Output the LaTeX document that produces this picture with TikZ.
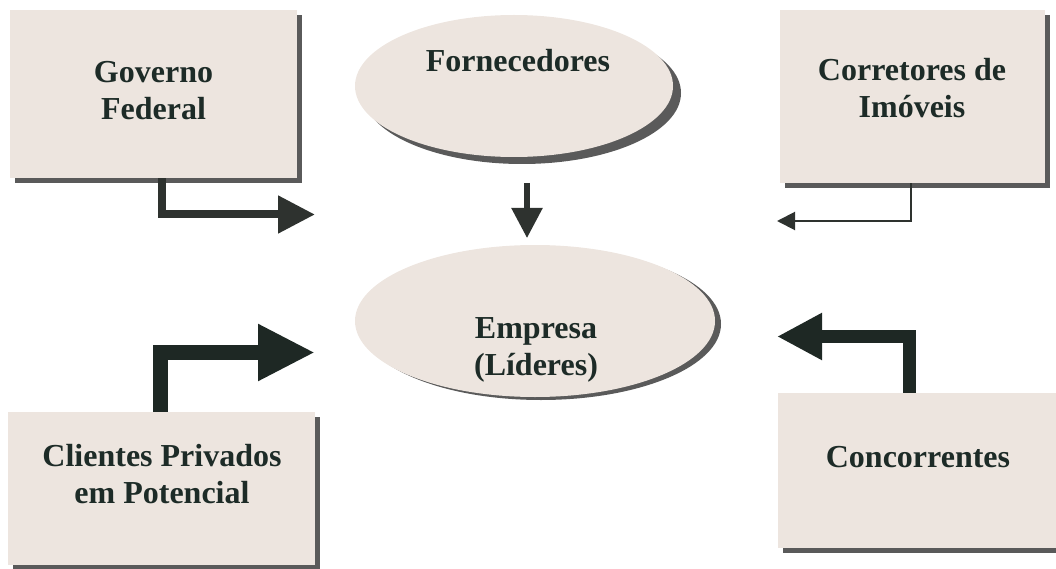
\documentclass[tikz,border=0pt]{standalone}
\usepackage{fontspec}
\setmainfont{Liberation Serif}
\usetikzlibrary{arrows.meta,shadows,shapes.geometric}

\definecolor{paper}{HTML}{EDE5DF}
\definecolor{shade}{HTML}{5A5A5A}
\definecolor{ink}{HTML}{1D2B27}
\definecolor{arrowgray}{HTML}{2E322F}
\definecolor{arrowdark}{HTML}{1E2824}

\begin{document}
\begin{tikzpicture}[x=1pt,y=-1pt,
  card/.style={rectangle, fill=paper, inner sep=0pt,
    drop shadow={shadow xshift=5pt, shadow yshift=-5pt, fill=shade, opacity=1}},
  oval/.style={ellipse, fill=paper, inner sep=0pt},
  deep shadow/.style={drop shadow={shadow xshift=8pt, shadow yshift=-7pt, fill=shade, opacity=1}},
  thin shadow/.style={drop shadow={shadow xshift=6pt, shadow yshift=-3pt, fill=shade, opacity=1}},
  lbl/.style={font=\bfseries\fontsize{32}{37}\selectfont, text=ink,
    align=center, inner sep=0pt, anchor=base},
  flow/.style={line cap=butt, line join=miter},
]
\useasboundingbox (0,0) rectangle (1056,569);

% actors around the company
\node[card, minimum width=287pt, minimum height=168pt] (gov) at (153.5,94) {};
\node[card, minimum width=265pt, minimum height=173pt] (cor) at (912.5,96.5) {};
\node[card, minimum width=307pt, minimum height=153pt] (cli) at (161.5,488.5) {};
\node[card, minimum width=280pt, minimum height=155pt] (con) at (918,470.5) {};

\node[oval, deep shadow, minimum width=318pt, minimum height=142pt] (forn) at (514,86) {};
\node[oval, thin shadow, minimum width=360pt, minimum height=152pt] (emp) at (535,321) {};

% labels (base = baseline of the last line)
\node[lbl] (govt) at (153.5,120) {Governo\\Federal};
\node[lbl] (cort) at (912,118) {Corretores de\\Imóveis};
\node[lbl] (clit) at (162,503) {Clientes Privados\\em Potencial};
\node[lbl] (cont) at (918,467) {Concorrentes};
\node[lbl] (fornt) at (518,72) {Fornecedores};
\node[lbl] (empt) at (536,375) {Empresa\\(Líderes)};

% arrow ends
\coordinate (govtip) at (315,214.5);
\coordinate (cortip) at (777,221);
\coordinate (clitip) at (315,352.5);
\coordinate (contip) at (777,336.5);
\coordinate (fornfrom) at (527,183);
\coordinate (forntip) at (527,238);

% influences
\draw[flow, arrowgray, line width=8pt, -{Triangle[length=37pt,width=36pt]}]
  ([xshift=8.5pt]gov.south) |- (govtip);
\draw[flow, arrowgray, line width=2pt, -{Triangle[length=18pt,width=18pt]}]
  ([xshift=-1.5pt]cor.south) |- (cortip);
\draw[flow, arrowdark, line width=15pt, -{Triangle[length=57pt,width=53pt]}]
  ([xshift=-1pt]cli.north) |- (clitip);
\draw[flow, arrowdark, line width=13pt, -{Triangle[length=45pt,width=44pt]}]
  ([xshift=-9pt]con.north) |- (contip);
\draw[flow, arrowgray, line width=5.5pt, -{Triangle[length=30pt,width=30pt]}]
  (fornfrom) -- (forntip);
\end{tikzpicture}
\end{document}
